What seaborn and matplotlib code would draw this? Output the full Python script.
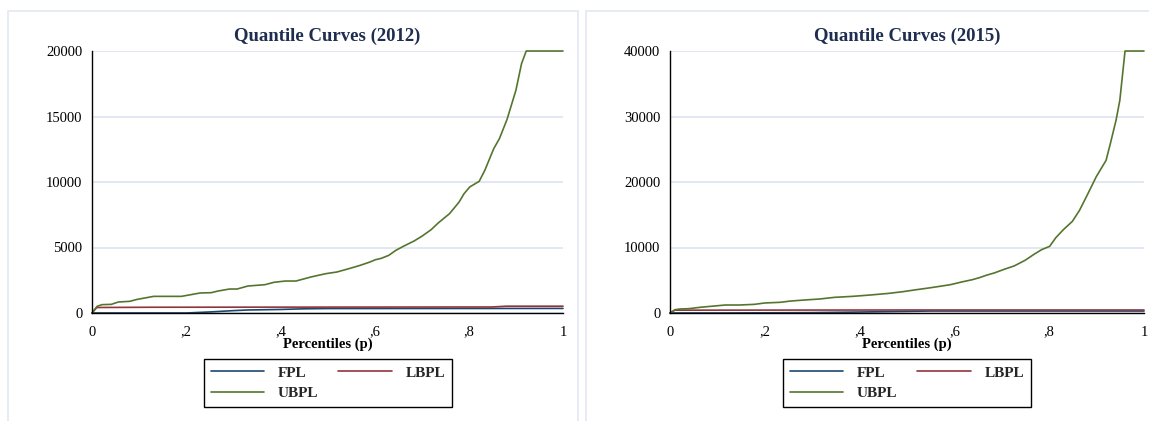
import matplotlib
matplotlib.use("Agg")
import matplotlib.pyplot as plt
import matplotlib.patches as mpatches
import seaborn as sns
import pandas as pd

# ---------------- data ----------------
series_names = ["FPL", "LBPL", "UBPL"]
x_ticks = [0, 0.2, 0.4, 0.6, 0.8, 1.0]
x_tick_labels = ["0", ",2", ",4", ",6", ",8", "1"]

titles = ["Quantile Curves (2012)", "Quantile Curves (2015)"]
x_label = "Percentiles (p)"

y_ticks_2012 = [0, 5000, 10000, 15000, 20000]
y_ticks_2015 = [0, 10000, 20000, 30000, 40000]

# 2012
p_fpl_2012 = [0, 0.20, 0.25, 0.30, 0.33, 0.40, 0.45, 0.50, 1.00]
v_fpl_2012 = [0, 0, 80, 180, 230, 270, 320, 340, 350]
p_lbpl_2012 = [0, 0.01, 0.13, 0.50, 0.85, 0.88, 1.00]
v_lbpl_2012 = [0, 420, 440, 450, 460, 520, 520]
p_ubpl_2012 = [0, 0.011, 0.021, 0.041, 0.056, 0.08, 0.096, 0.131, 0.19, 0.23, 0.253,
               0.268, 0.292, 0.308, 0.331, 0.367, 0.386, 0.41, 0.433, 0.465, 0.496,
               0.52, 0.543, 0.567, 0.59, 0.602, 0.614, 0.63, 0.645, 0.661, 0.684,
               0.70, 0.72, 0.735, 0.759, 0.779, 0.79, 0.802, 0.822, 0.834, 0.853,
               0.865, 0.881, 0.90, 0.912, 0.922, 1.0]
v_ubpl_2012 = [0, 509, 636, 660, 840, 890, 1040, 1270, 1270, 1530, 1550,
               1680, 1830, 1830, 2060, 2160, 2340, 2440, 2440, 2750, 3000,
               3130, 3360, 3610, 3890, 4070, 4170, 4400, 4780, 5090, 5500,
               5850, 6360, 6870, 7580, 8450, 9110, 9620, 10050, 10890, 12550,
               13310, 14760, 17000, 19040, 20000, 20000]

# 2015
p_fpl_2015 = [0, 0.10, 0.30, 0.40, 0.50, 0.55, 1.00]
v_fpl_2015 = [0, 0, 60, 150, 250, 300, 300]
p_lbpl_2015 = [0, 0.01, 0.50, 1.00]
v_lbpl_2015 = [0, 430, 460, 460]
p_ubpl_2015 = [0, 0.011, 0.021, 0.04, 0.063, 0.086, 0.117, 0.147, 0.178, 0.20, 0.232,
               0.255, 0.285, 0.316, 0.347, 0.385, 0.423, 0.462, 0.492, 0.515, 0.546,
               0.569, 0.592, 0.615, 0.638, 0.653, 0.669, 0.684, 0.707, 0.726, 0.749,
               0.768, 0.784, 0.801, 0.814, 0.83, 0.849, 0.864, 0.88, 0.899, 0.92,
               0.929, 0.941, 0.949, 0.96, 1.0]
v_ubpl_2015 = [0, 510, 610, 660, 865, 1020, 1220, 1220, 1320, 1530, 1630,
               1830, 1990, 2140, 2390, 2540, 2750, 3000, 3260, 3510, 3820,
               4070, 4330, 4730, 5090, 5400, 5800, 6110, 6720, 7180, 8040,
               8960, 9670, 10180, 11500, 12730, 14000, 15680, 17970, 20770, 23310,
               25860, 29420, 32470, 40000, 40000]

colors = {"FPL": "#1a476f", "LBPL": "#90353b", "UBPL": "#55752f"}

# ---------------- style ----------------
sns.set_theme(style="white")
plt.rcParams["font.family"] = ["Liberation Serif", "DejaVu Serif"]

W, H = 1149, 421
fig = plt.figure(figsize=(W / 100, H / 100), dpi=100)
fig.patch.set_facecolor("white")

frame_color = "#e3e8f2"
for (x0, x1) in [(8, 578), (586, 1160)]:
    fig.patches.append(mpatches.Rectangle((x0 / W, -0.05), (x1 - x0) / W, (H - 10.5) / H + 0.05,
                                          transform=fig.transFigure, fill=False,
                                          edgecolor=frame_color, linewidth=1.2))

panels = [
    dict(rect=(92, 563), title=titles[0], yticks=y_ticks_2012, ymax=20000,
         data=[(p_fpl_2012, v_fpl_2012), (p_lbpl_2012, v_lbpl_2012), (p_ubpl_2012, v_ubpl_2012)],
         legend_center=328),
    dict(rect=(670, 1144), title=titles[1], yticks=y_ticks_2015, ymax=40000,
         data=[(p_fpl_2015, v_fpl_2015), (p_lbpl_2015, v_lbpl_2015), (p_ubpl_2015, v_ubpl_2015)],
         legend_center=907),
]

y_top, y_bot = 51, 313
for pan in panels:
    x0, x1 = pan["rect"]
    ax = fig.add_axes([x0 / W, (H - y_bot) / H, (x1 - x0) / W, (y_bot - y_top) / H])
    ax.set_facecolor("white")
    handles = {}
    for name, (px, pv) in zip(series_names, pan["data"]):
        df = pd.DataFrame({"p": px, "v": pv})
        sns.lineplot(data=df, x="p", y="v", ax=ax, color=colors[name], linewidth=1.2,
                     estimator=None, sort=False, label=name, legend=False)
        handles[name] = ax.lines[-1]
    for ln in ax.lines:
        ln.set_clip_on(False)
    ax.set_xlim(0, 1)
    ax.set_ylim(0, pan["ymax"])
    ax.set_xticks(x_ticks)
    ax.set_xticklabels(x_tick_labels, fontsize=10.5)
    ax.set_yticks(pan["yticks"])
    ax.set_yticklabels([str(t) for t in pan["yticks"]], fontsize=10.5)
    ax.yaxis.grid(True, color="#dde4ef", linewidth=1.2)
    ax.xaxis.grid(False)
    ax.set_axisbelow(True)
    for s in ["top", "right"]:
        ax.spines[s].set_visible(False)
    for s in ["left", "bottom"]:
        ax.spines[s].set_color("black")
        ax.spines[s].set_linewidth(1.0)
    ax.tick_params(axis="x", direction="out", length=5, width=1, color="black", pad=4, labelcolor="black")
    ax.tick_params(axis="y", direction="out", length=4, width=1, color="black", pad=3, labelcolor="black")
    ax.set_xlabel(x_label, fontsize=10.5, fontweight="bold", labelpad=-1, color="black")
    ax.set_ylabel("")
    ax.set_title(pan["title"], fontsize=13.5, fontweight="bold", color="#1f2d50", pad=7)

    order = ["FPL", "UBPL", "LBPL"]
    leg = fig.legend([handles[n] for n in order], order, ncol=2, loc="upper center",
                     bbox_to_anchor=(pan["legend_center"] / W, (H - 359) / H),
                     prop={"family": ["Liberation Serif"], "weight": "bold", "size": 11},
                     frameon=True, fancybox=False, edgecolor="black", framealpha=1,
                     handlelength=3.5, handletextpad=0.9, columnspacing=1.3,
                     labelspacing=0.45, borderpad=0.45, borderaxespad=0)
    leg.get_frame().set_linewidth(1.0)

fig.savefig("out.png", dpi=100, facecolor="white")
